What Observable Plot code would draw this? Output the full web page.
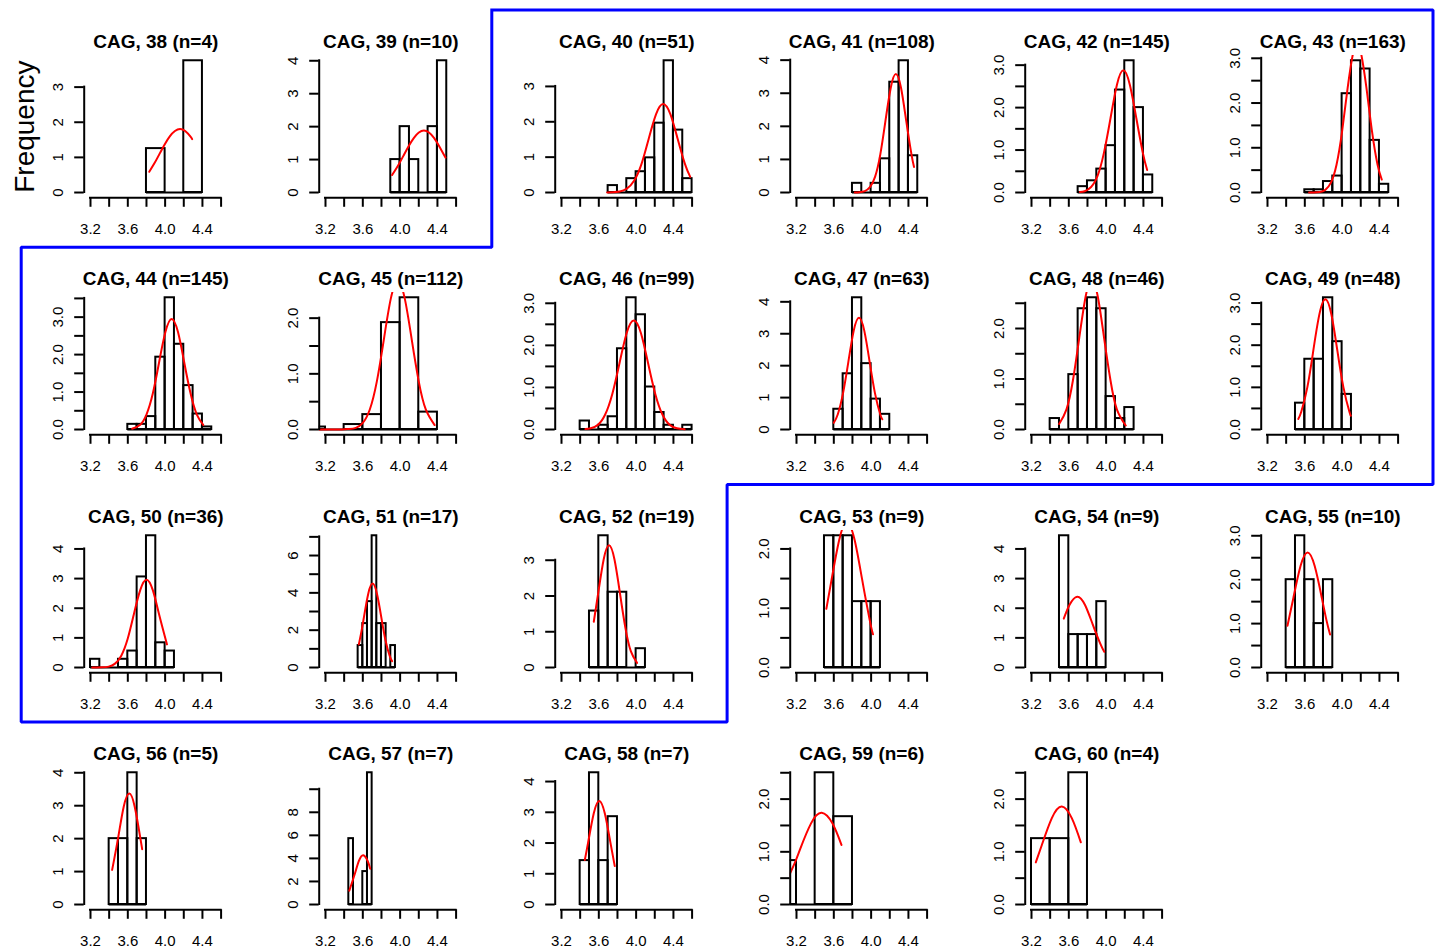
<!DOCTYPE html>
<html>
<head>
<meta charset="utf-8">
<script src="https://cdn.jsdelivr.net/npm/d3@7"></script>
<script src="https://cdn.jsdelivr.net/npm/@observablehq/plot@0.6"></script>
<style>
  html, body { margin: 0; padding: 0; background: #ffffff; }
  #fig { position: relative; width: 1438px; height: 952px; overflow: hidden; color: #000; background: #fff;
         font-family: "Liberation Sans", Arial, Helvetica, sans-serif; }
</style>
</head>
<body>
<div id="fig"></div>
<script>
// ---------------- data ----------------
const cagRepeats = [38,39,40,41,42,43,44,45,46,47,48,49,50,51,52,53,54,55,56,57,58,59,60];

// left edge of the first histogram bin and the bin width of each panel
const binStarts = [3.8,3.9,3.7,3.8,3.7,3.6,3.6,3.0,3.4,3.6,3.4,3.5,3.2,3.55,3.5,3.5,3.5,3.4,3.4,3.45,3.4,3.0,3.2];
const binWidths = [0.2,0.1,0.1,0.1,0.1,0.1,0.1,0.2,0.1,0.1,0.1,0.1,0.1,0.05,0.1,0.1,0.1,0.1,0.1,0.05,0.1,0.2,0.2];

// counts per bin (bars show count / (n * binWidth))
const binCounts = [
  [1,0,3],
  [1,2,1,0,2,4],
  [1,0,2,3,5,10,19,9,2],
  [3,0,3,11,36,43,12],
  [2,4,8,16,35,45,29,6],
  [1,1,4,6,36,48,45,19,3],
  [2,2,5,28,51,33,17,6,1],
  [1,0,2,6,43,53,7],
  [2,0,1,3,19,31,27,10,4,1,0,1],
  [4,11,26,13,6,3],
  [1,0,5,11,12,11,3,1,2],
  [3,8,8,15,10,4],
  [1,0,0,1,2,11,16,3,2],
  [1,2,3,6,2,2,0,1],
  [3,7,4,4,0,1],
  [2,2,2,1,1,1],
  [4,1,1,1,2],
  [2,3,2,1,2],
  [1,1,2,1],
  [2,0,0,1,4],
  [1,3,1,2],
  [1,0,3,2],
  [1,1,2]
];

// y-axis tick spacing of each panel
const yTickSteps = [1,1,1,1,0.5,0.5,0.5,0.5,0.5,1,0.5,0.5,1,1,1,0.5,1,0.5,1,2,1,0.5,0.5];

// shared x-axis ticks
const xTicks = [3.2,3.4,3.6,3.8,4.0,4.2,4.4,4.6];

// red fitted curves: [x, density]
const fittedCurves = [
  [[3.83,0.59],[3.885,0.83],[3.94,1.10],[3.995,1.37],[4.05,1.60],[4.105,1.75],[4.16,1.81],[4.215,1.75],[4.27,1.60],[4.29,1.52]],
  [[3.914,0.53],[3.986,0.86],[4.04,1.14],[4.094,1.42],[4.148,1.66],[4.201,1.82],[4.255,1.88],[4.309,1.82],[4.363,1.66],[4.416,1.42],[4.486,1.06]],
  [[3.69,0.0],[3.748,0.01],[3.825,0.03],[3.90,0.11],[3.98,0.34],[4.058,0.81],[4.135,1.52],[4.213,2.21],[4.29,2.50],[4.368,2.21],[4.445,1.52],[4.523,0.81],[4.58,0.44]],
  [[3.825,0.0],[3.876,0.01],[3.932,0.04],[3.987,0.16],[4.043,0.48],[4.099,1.16],[4.154,2.17],[4.21,3.16],[4.265,3.58],[4.321,3.16],[4.376,2.17],[4.432,1.16],[4.46,0.77]],
  [[3.72,0.01],[3.77,0.03],[3.839,0.13],[3.908,0.39],[3.977,0.94],[4.047,1.75],[4.116,2.54],[4.185,2.88],[4.254,2.54],[4.324,1.75],[4.393,0.94],[4.44,0.53]],
  [[3.646,0.0],[3.70,0.0],[3.76,0.01],[3.82,0.06],[3.88,0.22],[3.94,0.62],[4.0,1.37],[4.06,2.35],[4.12,3.14],[4.16,3.32],[4.2,3.14],[4.26,2.35],[4.32,1.37],[4.38,0.62],[4.425,0.29]],
  [[3.646,0.02],[3.733,0.13],[3.80,0.40],[3.868,0.96],[3.935,1.79],[4.003,2.60],[4.07,2.95],[4.138,2.60],[4.205,1.79],[4.273,0.96],[4.34,0.40],[4.41,0.12]],
  [[3.075,0.0],[3.15,0.0],[3.225,0.0],[3.30,0.0],[3.375,0.002],[3.45,0.01],[3.525,0.03],[3.60,0.12],[3.675,0.36],[3.75,0.86],[3.825,1.61],[3.90,2.35],[3.975,2.66],[4.05,2.35],[4.125,1.61],[4.20,0.86],[4.275,0.36],[4.37,0.08]],
  [[3.457,0.01],[3.513,0.03],[3.59,0.11],[3.667,0.35],[3.744,0.84],[3.821,1.57],[3.898,2.29],[3.975,2.59],[4.052,2.29],[4.129,1.57],[4.206,0.84],[4.283,0.35],[4.36,0.11],[4.437,0.03],[4.52,0.005]],
  [[3.60,0.21],[3.642,0.47],[3.699,1.14],[3.756,2.12],[3.813,3.09],[3.87,3.50],[3.927,3.09],[3.984,2.12],[4.041,1.14],[4.098,0.47],[4.12,0.32]],
  [[3.496,0.11],[3.575,0.40],[3.643,0.96],[3.71,1.79],[3.778,2.61],[3.845,2.96],[3.913,2.61],[3.98,1.79],[4.048,0.96],[4.115,0.40],[4.21,0.08]],
  [[3.53,0.25],[3.562,0.42],[3.627,1.00],[3.691,1.87],[3.756,2.73],[3.82,3.09],[3.885,2.73],[3.949,1.87],[4.014,1.00],[4.078,0.42],[4.093,0.33]],
  [[3.218,0.0],[3.26,0.001],[3.328,0.007],[3.395,0.03],[3.463,0.13],[3.53,0.40],[3.598,0.96],[3.665,1.80],[3.733,2.61],[3.80,2.96],[3.868,2.61],[3.935,1.80],[4.02,0.78]],
  [[3.557,1.23],[3.585,1.92],[3.613,2.73],[3.659,3.97],[3.705,4.50],[3.751,3.97],[3.797,2.73],[3.843,1.46],[3.889,0.61],[3.914,0.34]],
  [[3.546,1.28],[3.593,2.07],[3.652,3.02],[3.71,3.42],[3.768,3.02],[3.827,2.07],[3.885,1.11],[3.943,0.46],[4.01,0.13]],
  [[3.52,0.99],[3.577,1.49],[3.659,2.16],[3.74,2.45],[3.822,2.16],[3.903,1.49],[3.985,0.80],[4.02,0.56]],
  [[3.546,1.65],[3.607,2.11],[3.69,2.39],[3.774,2.11],[3.857,1.45],[3.941,0.78],[3.98,0.53]],
  [[3.414,0.95],[3.478,1.59],[3.554,2.31],[3.63,2.62],[3.706,2.31],[3.782,1.59],[3.835,1.05],[3.871,0.75]],
  [[3.432,1.05],[3.497,2.04],[3.556,2.97],[3.615,3.37],[3.674,2.97],[3.733,2.04],[3.754,1.68]],
  [[3.455,1.20],[3.512,2.60],[3.558,3.78],[3.605,4.28],[3.652,3.78],[3.679,3.10]],
  [[3.45,1.45],[3.487,2.04],[3.546,2.97],[3.605,3.37],[3.664,2.97],[3.723,2.04],[3.771,1.25]],
  [[3.10,0.47],[3.184,0.80],[3.241,1.06],[3.356,1.54],[3.47,1.74],[3.585,1.54],[3.682,1.13]],
  [[3.246,0.80],[3.311,1.13],[3.418,1.64],[3.525,1.86],[3.632,1.64],[3.729,1.18]]
];

// first and last repeat length inside the blue outline
const highlighted = [40, 52];

// ---------------- layout ----------------
const FIG_W = 1438, FIG_H = 952;
const COLS = 6;
const PANEL_W = 235.3, PANEL_H = 237.3;
const MARGIN = {left: 83.7, right: 8.4, top: 55, bottom: 40};
const X_DOMAIN = [3.1325, 4.6675];
const TICK = 9.5;
const AXIS_FONT = 15, TITLE_FONT = 19;
const OUTLINE_INSET = {x: 20.7, y: 9.5};
const FONT = '"Liberation Sans", Arial, Helvetica, sans-serif';

const fig = document.getElementById("fig");

function place(svg, left, top) {
  svg.style.position = "absolute";
  svg.style.left = left + "px";
  svg.style.top = top + "px";
  svg.style.background = "none";
  svg.style.overflow = "visible";
  svg.style.maxWidth = "none";
  svg.style.fontFamily = FONT;
  fig.appendChild(svg);
}

// R-style label thinning: a label is drawn only if it is at least one "M" away from the last drawn one
function charWidth(ch) { return ch === "." ? 0.278 : ch === "-" ? 0.333 : 0.556; }
function keepLabels(ticks, fmt, pxPerUnit, fontSize) {
  const kept = [];
  let lastEnd = -Infinity;
  for (const t of ticks) {
    const pos = (t - ticks[0]) * pxPerUnit;
    const half = [...fmt(t)].reduce((s, ch) => s + charWidth(ch), 0) * fontSize / 2;
    if (pos - half >= lastEnd + 0.833 * fontSize) { kept.push(t); lastEnd = pos + half; }
  }
  return kept;
}

const fmtX = d3.format(".1f");
const innerW = PANEL_W - MARGIN.left - MARGIN.right;
const innerH = PANEL_H - MARGIN.top - MARGIN.bottom;
const kx = innerW / (X_DOMAIN[1] - X_DOMAIN[0]);
const xLabels = keepLabels(xTicks, fmtX, kx, AXIS_FONT);
const xFirst = xTicks[0], xLast = xTicks[xTicks.length - 1];

cagRepeats.forEach((cag, i) => {
  const col = i % COLS, row = Math.floor(i / COLS);
  const counts = binCounts[i], w = binWidths[i], start = binStarts[i];
  const n = d3.sum(counts);
  const bins = counts.map((c, j) => ({
    x1: +(start + j * w).toFixed(4),
    x2: +(start + (j + 1) * w).toFixed(4),
    density: c / (n * w)
  }));
  const top = d3.max(bins, d => d.density);
  const yDomain = [-0.04 * top, 1.04 * top];
  const ky = innerH / (yDomain[1] - yDomain[0]);
  const step = yTickSteps[i];
  const yTicks = d3.range(0, Math.floor(yDomain[1] / step + 1e-9) + 1).map(k => +(k * step).toFixed(4));
  const fmtY = step < 1 ? d3.format(".1f") : d3.format("d");
  const yLabels = keepLabels(yTicks, fmtY, ky, AXIS_FONT);

  const svg = Plot.plot({
    width: PANEL_W,
    height: PANEL_H,
    marginLeft: MARGIN.left,
    marginRight: MARGIN.right,
    marginTop: MARGIN.top,
    marginBottom: MARGIN.bottom,
    style: {fontFamily: FONT, background: "none", overflow: "visible"},
    x: {domain: X_DOMAIN, axis: null},
    y: {domain: yDomain, axis: null},
    marks: [
      // histogram baseline (also shows empty bins) and bars
      Plot.ruleY([0], {x1: bins[0].x1, x2: bins[bins.length - 1].x2, stroke: "black", strokeWidth: 2, clip: true}),
      Plot.rectY(bins.filter(d => d.density > 0), {
        x1: "x1", x2: "x2", y1: 0, y2: "density", inset: 0,
        fill: "none", stroke: "black", strokeWidth: 2, clip: true
      }),
      // fitted curve
      Plot.line(fittedCurves[i], {
        x: d => d[0], y: d => d[1], stroke: "#ff0000", strokeWidth: 2,
        curve: "natural", strokeLinecap: "round", clip: true
      }),
      // x axis
      Plot.ruleY([yDomain[0]], {x1: xFirst, x2: xLast, stroke: "black", strokeWidth: 2, strokeLinecap: "square"}),
      Plot.ruleX(xTicks, {x: d => d, y1: yDomain[0], y2: yDomain[0] - TICK / ky, stroke: "black", strokeWidth: 2}),
      Plot.text(xLabels, {
        x: d => d, text: d => fmtX(d), frameAnchor: "bottom", dy: 25.4,
        lineAnchor: "top", textAnchor: "middle", fontSize: AXIS_FONT, fill: "black"
      }),
      // y axis
      Plot.ruleX([X_DOMAIN[0]], {y1: yTicks[0], y2: yTicks[yTicks.length - 1], stroke: "black", strokeWidth: 2, strokeLinecap: "square"}),
      Plot.ruleY(yTicks, {y: d => d, x1: X_DOMAIN[0], x2: X_DOMAIN[0] - TICK / kx, stroke: "black", strokeWidth: 2}),
      Plot.text(yLabels, {
        y: d => d, text: d => fmtY(d), frameAnchor: "left", dx: -21.4, rotate: -90,
        lineAnchor: "bottom", textAnchor: "middle", fontSize: AXIS_FONT, fill: "black"
      }),
      // panel title
      Plot.text([`CAG, ${cag} (n=${n})`], {
        text: d => d, frameAnchor: "top", dy: -7.7, lineAnchor: "bottom", textAnchor: "middle",
        fontSize: TITLE_FONT, fontWeight: "bold", fill: "black"
      })
    ]
  });
  place(svg, col * PANEL_W, row * PANEL_H);
});

// ---------------- overlay: blue outline around the highlighted panels + shared y label ----------------
const [ia, ib] = highlighted.map(c => cagRepeats.indexOf(c));
const ca = ia % COLS, ra = Math.floor(ia / COLS);
const cb = ib % COLS + 1, rb = Math.floor(ib / COLS);
const outlineCells = [[ca, ra], [COLS, ra], [COLS, rb], [cb, rb], [cb, rb + 1], [0, rb + 1], [0, ra + 1], [ca, ra + 1], [ca, ra]];
const outline = outlineCells.map(([c, r]) => [c * PANEL_W + OUTLINE_INSET.x, r * PANEL_H + OUTLINE_INSET.y]);

const yLabelPos = {x: MARGIN.left - 50.7, y: (MARGIN.top + PANEL_H - MARGIN.bottom) / 2};

const overlay = Plot.plot({
  width: FIG_W,
  height: FIG_H,
  margin: 0,
  style: {fontFamily: FONT, background: "none", overflow: "visible"},
  x: {domain: [0, FIG_W], range: [0, FIG_W], axis: null},
  y: {domain: [0, FIG_H], range: [0, FIG_H], axis: null},
  marks: [
    Plot.line(outline, {
      x: d => d[0], y: d => d[1], stroke: "#0000ff", strokeWidth: 3,
      strokeLinejoin: "miter", strokeLinecap: "square"
    }),
    Plot.text(["Frequency"], {
      x: yLabelPos.x, y: yLabelPos.y, text: d => d, rotate: -90,
      lineAnchor: "bottom", textAnchor: "middle", fontSize: 28, fill: "black"
    })
  ]
});
overlay.style.pointerEvents = "none";
place(overlay, 0, 0);
</script>
</body>
</html>
